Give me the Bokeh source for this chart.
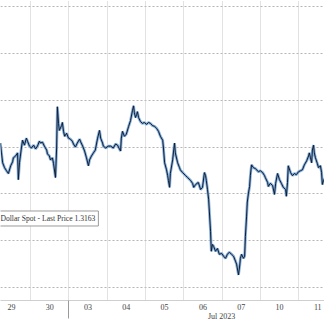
from bokeh.plotting import figure
from bokeh.models import Range1d, FixedTicker, Grid, LinearAxis, Label
from bokeh.embed import file_html
from bokeh.resources import INLINE

# time in trading-day units (0 = boundary between Jun 29 and Jun 30)
t = [-0.79, -0.76, -0.73, -0.68, -0.63, -0.58, -0.52, -0.47, -0.45, -0.39, -0.34, -0.32, -0.29, -0.24, -0.21,
     -0.16, -0.11, -0.08, -0.03, 0.02, 0.08, 0.13, 0.18, 0.23, 0.26, 0.31, 0.36, 0.42, 0.44, 0.49, 0.52, 0.57,
     0.60, 0.65, 0.68, 0.70, 0.73, 0.75, 0.81, 0.83, 0.86, 0.89, 0.94, 0.99, 1.04, 1.09, 1.12, 1.17, 1.22, 1.28,
     1.30, 1.36, 1.41, 1.46, 1.51, 1.54, 1.59, 1.64, 1.69, 1.75, 1.80, 1.83, 1.88, 1.90, 1.96, 2.03,
     2.09, 2.16, 2.22, 2.27, 2.32, 2.35, 2.37, 2.40, 2.45, 2.50, 2.56, 2.61, 2.66, 2.69, 2.71, 2.74, 2.77, 2.79,
     2.82, 2.87, 2.92, 2.97, 3.03, 3.08, 3.13, 3.18, 3.24, 3.29, 3.34, 3.39, 3.45, 3.47, 3.50, 3.55, 3.58, 3.60,
     3.63, 3.65, 3.71, 3.73, 3.76, 3.78, 3.84, 3.89, 3.91, 3.97, 4.05, 4.10, 4.18, 4.23, 4.26, 4.31, 4.38, 4.44,
     4.49, 4.54, 4.57, 4.59, 4.62, 4.65, 4.67, 4.70, 4.72, 4.75, 4.78, 4.83, 4.88, 4.93, 4.99, 5.04, 5.09, 5.14,
     5.19, 5.25, 5.30, 5.35, 5.38, 5.43, 5.46, 5.48, 5.51, 5.56, 5.59, 5.61, 5.64, 5.66, 5.69, 5.72, 5.74, 5.77,
     5.82, 5.87, 5.95, 6.00, 6.06, 6.11, 6.13, 6.19, 6.21, 6.26, 6.32, 6.37, 6.40, 6.45, 6.50, 6.55, 6.60, 6.66,
     6.68, 6.71, 6.73, 6.79, 6.84, 6.89, 6.94, 7.00, 7.05, 7.10, 7.15, 7.21, 7.26, 7.28, 7.31, 7.34, 7.36, 7.39,
     7.41, 7.44, 7.49, 7.52, 7.57, 7.60, 7.62, 7.65, 7.68]

price = [1.31817, 1.31775, 1.31733, 1.31712, 1.31699, 1.31687, 1.31720, 1.31737, 1.31754, 1.31762, 1.31775,
         1.31661, 1.31733, 1.31796, 1.31829, 1.31808, 1.31838, 1.31825, 1.31804, 1.31796, 1.31808, 1.31792,
         1.31804, 1.31825, 1.31817, 1.31821, 1.31804, 1.31787, 1.31771, 1.31762, 1.31745, 1.31754, 1.31729,
         1.31670, 1.31796, 1.31972, 1.31901, 1.31871, 1.31892, 1.31905, 1.31867, 1.31846, 1.31859, 1.31838,
         1.31834, 1.31825, 1.31813, 1.31800, 1.31817, 1.31834, 1.31825, 1.31804, 1.31783, 1.31754, 1.31720,
         1.31745, 1.31762, 1.31775, 1.31787, 1.31838, 1.31871, 1.31838, 1.31817, 1.31804, 1.31796, 1.31804,
         1.31804, 1.31796, 1.31813, 1.31808, 1.31792, 1.31783, 1.31838, 1.31867, 1.31846, 1.31855, 1.31888,
         1.31913, 1.31955, 1.31976, 1.31947, 1.31926, 1.31939, 1.31951, 1.31926, 1.31909, 1.31901, 1.31905,
         1.31897, 1.31905, 1.31901, 1.31892, 1.31888, 1.31880, 1.31867, 1.31846, 1.31829, 1.31796, 1.31733,
         1.31703, 1.31678, 1.31657, 1.31628, 1.31687, 1.31745, 1.31775, 1.31817, 1.31775, 1.31733, 1.31712,
         1.31703, 1.31691, 1.31678, 1.31670, 1.31657, 1.31645, 1.31628, 1.31640, 1.31649, 1.31619, 1.31628,
         1.31691, 1.31678, 1.31657, 1.31619, 1.31577, 1.31523, 1.31439, 1.31355, 1.31384, 1.31376, 1.31355,
         1.31367, 1.31342, 1.31346, 1.31334, 1.31325, 1.31342, 1.31351, 1.31342, 1.31334, 1.31313, 1.31300,
         1.31254, 1.31292, 1.31325, 1.31342, 1.31325, 1.31334, 1.31418, 1.31502, 1.31565, 1.31603, 1.31632,
         1.31678, 1.31724, 1.31712, 1.31708, 1.31695, 1.31699, 1.31691, 1.31678, 1.31670, 1.31649, 1.31632,
         1.31645, 1.31636, 1.31598, 1.31645, 1.31687, 1.31661, 1.31645, 1.31628, 1.31619, 1.31590, 1.31649,
         1.31720, 1.31691, 1.31678, 1.31687, 1.31682, 1.31695, 1.31699, 1.31703, 1.31724, 1.31741, 1.31762,
         1.31775, 1.31754, 1.31733, 1.31787, 1.31808, 1.31775, 1.31754, 1.31729, 1.31712, 1.31720, 1.31691,
         1.31640, 1.31657, 1.31666]

day_labels = ["29", "30", "03", "04", "05", "06", "07", "10", "11"]
day_centers = [-0.5, 0.5, 1.5, 2.5, 3.5, 4.5, 5.5, 6.5, 7.5]
day_bounds = [0, 1, 2, 3, 4, 5, 6, 7]
month_bounds = [1]
month_label = "Jul 2023"
month_label_x = 4.99
price_grid = [1.312, 1.314, 1.316, 1.318, 1.320, 1.322, 1.324]
legend_text = "Dollar Spot - Last Price 1.3163"

FONT = "Liberation Serif"

p = figure(width=324, height=323, output_backend="svg", toolbar_location=None,
           x_axis_location=None, y_axis_location=None,
           x_range=Range1d(-0.786, 7.676), y_range=Range1d(1.311448, 1.324258),
           min_border_left=0, min_border_right=0, min_border_top=0, min_border_bottom=18)
p.outline_line_color = None
p.background_fill_color = "white"
p.border_fill_color = "white"
for g in list(p.xgrid) + list(p.ygrid):
    g.visible = False

p.add_layout(Grid(dimension=1, ticker=FixedTicker(ticks=price_grid),
                  grid_line_color="#b5b5b5", grid_line_dash="2 2", grid_line_width=1))
p.add_layout(Grid(dimension=0, ticker=FixedTicker(ticks=day_bounds),
                  grid_line_color="#c4c4c4", grid_line_dash="1 1", grid_line_width=1))

overrides = {c: l for c, l in zip(day_centers, day_labels)}
overrides[month_label_x] = " \n" + month_label
xax = LinearAxis(ticker=FixedTicker(ticks=day_centers + [month_label_x], minor_ticks=month_bounds),
                 major_label_overrides=overrides)
xax.axis_line_color = "#cfcfcf"
xax.major_tick_line_color = None
xax.major_tick_out = 0
xax.major_tick_in = 0
xax.minor_tick_line_color = "#9a9a9a"
xax.minor_tick_in = 0
xax.minor_tick_out = 18
xax.major_label_text_font = FONT
xax.major_label_text_font_size = "8px"
xax.major_label_text_line_height = 1.0
xax.major_label_text_color = "#444444"
xax.major_label_standoff = -16
p.add_layout(xax, "below")

p.line(t, price, line_color="#7aa7d8", line_width=2.8, line_alpha=0.9)
p.line(t, price, line_color="#101c30", line_width=1.0)

p.add_layout(Label(x=-0.865, y=1.31495, text=legend_text, text_align="left", text_baseline="middle",
                   text_font=FONT, text_font_size="7.6px", text_color="#333333",
                   background_fill_color="white", border_line_color="#9a9a9a", border_line_width=1,
                   padding=3))

open("out.html", "w").write(file_html(p, INLINE))
